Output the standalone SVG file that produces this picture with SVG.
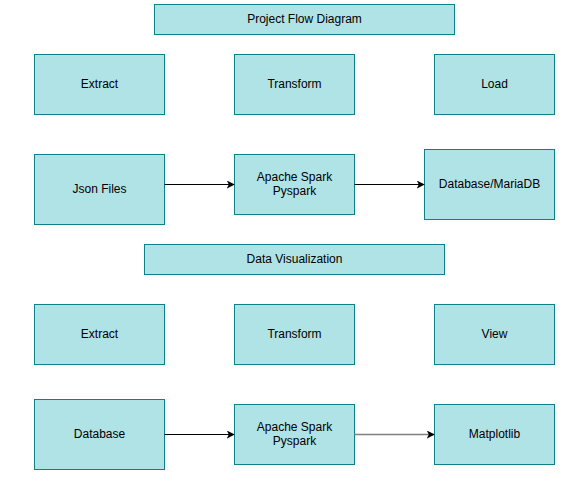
<svg xmlns="http://www.w3.org/2000/svg" width="587" height="482" viewBox="0 0 587 482">
<style>
.n rect{fill:#b0e3e6;stroke:#0e8088;stroke-width:1}
.n text{font-family:"Liberation Sans",Arial,sans-serif;font-size:12px;fill:#000;text-anchor:middle}
.e{fill:none;stroke:#000;stroke-width:1}
</style>
<defs>
<marker id="ah" viewBox="0 0 10 10" refX="9" refY="5" markerWidth="8" markerHeight="8" markerUnits="userSpaceOnUse" orient="auto">
<path d="M0,0 L10,5 L0,10 L2.5,5 Z" fill="#000"/>
</marker>
</defs>
<rect width="587" height="482" fill="#fff"/>
<g id="title1" class="n"><rect x="154.5" y="4.5" width="300" height="30"/><text x="304.5" y="22.5">Project Flow Diagram</text></g>
<g id="extract1" class="n"><rect x="34.5" y="54.5" width="130" height="60"/><text x="99.5" y="87.5">Extract</text></g>
<g id="transform1" class="n"><rect x="234.5" y="54.5" width="120" height="60"/><text x="294.5" y="87.5">Transform</text></g>
<g id="load" class="n"><rect x="434.5" y="54.5" width="120" height="60"/><text x="494.5" y="87.5">Load</text></g>
<g id="json" class="n"><rect x="34.5" y="154.5" width="130" height="70"/><text x="99.5" y="192.5">Json Files</text></g>
<g id="spark1" class="n"><rect x="234.5" y="154.5" width="120" height="60"/><text x="294.5" y="180.5">Apache Spark</text><text x="294.5" y="194.5">Pyspark</text></g>
<g id="mariadb" class="n"><rect x="424.5" y="149.5" width="130" height="70"/><text x="489.5" y="187.5">Database/MariaDB</text></g>
<g id="title2" class="n"><rect x="144.5" y="244.5" width="300" height="30"/><text x="294.5" y="262.5">Data Visualization</text></g>
<g id="extract2" class="n"><rect x="34.5" y="304.5" width="130" height="60"/><text x="99.5" y="337.5">Extract</text></g>
<g id="transform2" class="n"><rect x="234.5" y="304.5" width="120" height="60"/><text x="294.5" y="337.5">Transform</text></g>
<g id="view" class="n"><rect x="434.5" y="304.5" width="120" height="60"/><text x="494.5" y="337.5">View</text></g>
<g id="database" class="n"><rect x="34.5" y="399.5" width="130" height="70"/><text x="99.5" y="437.5">Database</text></g>
<g id="spark2" class="n"><rect x="234.5" y="404.5" width="120" height="60"/><text x="294.5" y="430.5">Apache Spark</text><text x="294.5" y="444.5">Pyspark</text></g>
<g id="matplotlib" class="n"><rect x="434.5" y="404.5" width="120" height="60"/><text x="494.5" y="437.5">Matplotlib</text></g>
<g id="connectors">
<line class="e" x1="164.5" y1="184.5" x2="234" y2="184.5" marker-end="url(#ah)"/>
<line class="e" x1="354.5" y1="184.5" x2="424" y2="184.5" marker-end="url(#ah)"/>
<line class="e" x1="164.5" y1="434.5" x2="234" y2="434.5" marker-end="url(#ah)"/>
<line class="e" x1="354.5" y1="434.5" x2="434" y2="434.5" style="stroke:#808080;stroke-width:1.5" marker-end="url(#ah)"/>
</g>
</svg>
